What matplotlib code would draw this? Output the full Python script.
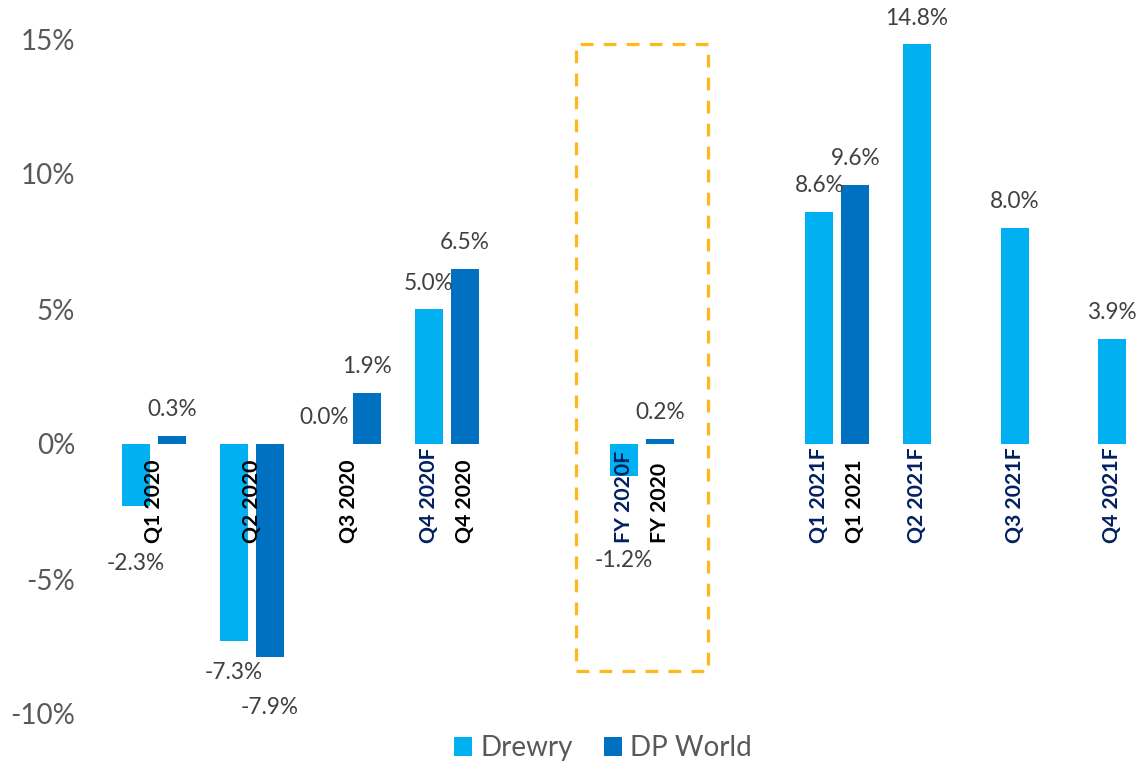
import numpy as np
import matplotlib
matplotlib.use("Agg")
import matplotlib.pyplot as plt
from matplotlib.patches import Rectangle, Patch

plt.rcParams['font.family'] = ['Lato', 'DejaVu Sans']

# ---------------- data ----------------
slots = ['Q1 2020', 'Q2 2020', 'Q3 2020', 'Q4 2020', '', 'FY 2020', '',
         'Q1 2021', 'Q2 2021', 'Q3 2021', 'Q4 2021']
drewry = [-2.3, -7.3, 0.0, 5.0, np.nan, -1.2, np.nan, 8.6, 14.8, 8.0, 3.9]
dpworld = [0.3, -7.9, 1.9, 6.5, np.nan, 0.2, np.nan, 9.6, np.nan, np.nan, np.nan]

# category labels (centre / under Drewry bar / under DP World bar)
center_labels = ['Q1 2020', 'Q2 2020', 'Q3 2020', None, None, None, None, None, None, None, None]
drewry_labels = [None, None, None, 'Q4 2020F', None, 'FY 2020F', None,
                 'Q1 2021F', 'Q2 2021F', 'Q3 2021F', 'Q4 2021F']
dpworld_labels = [None, None, None, 'Q4 2020', None, 'FY 2020', None,
                  'Q1 2021', None, None, None]

yticks = [-10, -5, 0, 5, 10, 15]
series_names = ['Drewry', 'DP World']

# ---------------- style ----------------
C_DREWRY = '#00B0F0'
C_DPW = '#0070C0'
C_NAVY = '#002060'
C_TEXT = '#404040'
C_TICK = '#595959'
C_BOX = '#FFB81C'

W, H = 1140, 764
fig = plt.figure(figsize=(W / 100, H / 100), dpi=100)
ax = fig.add_axes([100 / W, (H - 714) / H, 1040 / W, 675 / H])

x = np.arange(len(slots))
bw = 0.287
off = 0.184

ax.bar(x - off, drewry, width=bw, color=C_DREWRY, zorder=2)
ax.bar(x + off, dpworld, width=bw, color=C_DPW, zorder=2)

ax.set_xlim(-0.553, 10.1)
ax.set_ylim(-10, 15)
ax.set_yticks(yticks)
ax.set_yticklabels([f'{v}%' for v in yticks], fontsize=20, color=C_TICK)
ax.tick_params(axis='y', length=0, pad=18)
ax.set_xticks([])
for s in ax.spines.values():
    s.set_visible(False)

# data labels
neg_offsets = {(0, 0): 57, (0, 1): 50, (1, 0): 31, (1, 1): 50, (5, 0): 84}
for si, (vals, dx) in enumerate([(drewry, -off), (dpworld, off)]):
    for i, v in enumerate(vals):
        if np.isnan(v):
            continue
        if v >= 0:
            dy = 26
            dxp = -7 if v == 0 else 0
        else:
            dy = -neg_offsets.get((i, si), 40)
            dxp = 0
        ax.annotate(f'{v:.1f}%', xy=(x[i] + dx, v), xytext=(dxp, dy),
                    textcoords='offset pixels', ha='center', va='center',
                    fontsize=16.3, color=C_TEXT, zorder=4)

# category labels (rotated, bottom-anchored)
ylab = -3.68
for i in range(len(slots)):
    for labs, dx, col in [(center_labels, 0, 'black'), (drewry_labels, -off, C_NAVY),
                          (dpworld_labels, off, 'black')]:
        if labs[i]:
            ax.text(x[i] + dx, ylab, labs[i], rotation=90, rotation_mode='anchor',
                    ha='left', va='center', fontsize=15.3, fontweight='bold',
                    color=col, zorder=5)

# highlight box around FY
fy = slots.index('FY 2020')
ax.add_patch(Rectangle((fy - 0.68, -8.4), 1.36, 14.8 + 8.4, fill=False,
                       edgecolor=C_BOX, linewidth=2.3, linestyle=(0, (4, 3.2)),
                       zorder=3, clip_on=False))

# legend
handles = [Patch(facecolor=C_DREWRY, edgecolor='none'),
           Patch(facecolor=C_DPW, edgecolor='none')]
fig.legend(handles, series_names, loc='center', bbox_to_anchor=(603 / W, 16 / H),
           ncol=2, frameon=False, fontsize=20, labelcolor=C_TICK,
           handlelength=0.65, handleheight=0.65, handletextpad=0.3,
           columnspacing=1.1)

fig.savefig('out.png', dpi=100)
